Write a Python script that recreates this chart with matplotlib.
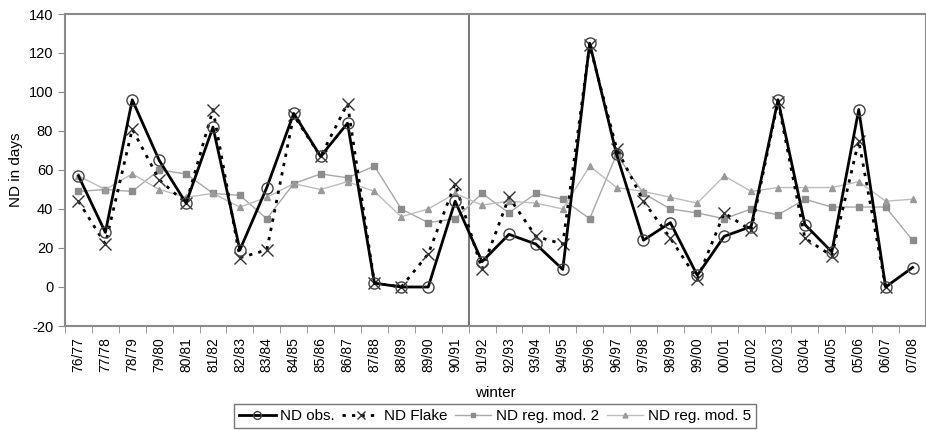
import numpy as np
import matplotlib
matplotlib.use("Agg")
import matplotlib.pyplot as plt
from matplotlib.ticker import FixedLocator, NullFormatter

plt.rcParams['font.family'] = ['Liberation Sans', 'DejaVu Sans']
plt.rcParams['axes.unicode_minus'] = False

winters = ["76/77", "77/78", "78/79", "79/80", "80/81", "81/82", "82/83", "83/84",
           "84/85", "85/86", "86/87", "87/88", "88/89", "89/90", "90/91", "91/92",
           "92/93", "93/94", "94/95", "95/96", "96/97", "97/98", "98/99", "99/00",
           "00/01", "01/02", "02/03", "03/04", "04/05", "05/06", "06/07", "07/08"]

nd_obs = [57, 28, 96, 65, 43, 82, 19, 51, 89, 67, 84, 2, 0, 0, 44, 13,
          27, 22, 9, 125, 68, 24, 33, 6, 26, 31, 96, 32, 18, 91, 0, 10]
nd_flake = [44, 22, 81, 55, 43, 91, 15, 19, 88, 67, 94, 2, 0, 17, 53, 9,
            46, 26, 22, 124, 71, 44, 25, 4, 38, 29, 95, 25, 16, 75, 0, np.nan]
nd_mod2 = [49, 50, 49, 60, 58, 48, 47, 35, 53, 58, 56, 62, 40, 33, 35, 48,
           38, 48, 45, 35, 68, 48, 40, 38, 35, 40, 37, 45, 41, 41, 41, 24]
nd_mod5 = [57, 50, 58, 50, 46, 48, 41, 46, 53, 50, 54, 49, 36, 40, 48, 42,
           44, 43, 40, 62, 51, 49, 46, 43, 57, 49, 51, 51, 51, 54, 44, 45]

x = np.arange(len(winters))

fig = plt.figure(figsize=(9.26, 4.30), dpi=100)
ax = fig.add_axes([65/926, 1-326/430, 861/926, (326-14)/430])

frame_col = '#8a8a8a'
ax.axvline(14.5, color='#7a7a7a', lw=1.5, zorder=1)

ax.plot(x, nd_mod2, color='#a8a8a8', lw=1.0, marker='s', ms=4,
        mfc='#8c8c8c', mec='#8c8c8c', label='ND reg. mod. 2', zorder=2)
ax.plot(x, nd_mod5, color='#bdbdbd', lw=1.0, marker='^', ms=5,
        mfc='#9a9a9a', mec='#9a9a9a', label='ND reg. mod. 5', zorder=2)
ax.plot(x, nd_flake, color='black', lw=2.0, ls=(0, (1.2, 2.2)), marker='x', ms=8,
        mec='#333333', mew=1.0, label='ND Flake', zorder=3)
ax.plot(x, nd_obs, color='black', lw=2.0, marker='o', ms=8, mfc='none',
        mec='#444444', mew=1.0, label='ND obs.', zorder=4)

ax.set_xlim(-0.5, len(winters) - 0.5)
ax.set_ylim(-20, 140)
ax.set_yticks(np.arange(-20, 141, 20))
ax.set_xticks(x)
ax.set_xticklabels(winters, rotation=90, fontsize=10)
ax.tick_params(axis='x', which='major', length=0, pad=8)
ax.xaxis.set_minor_locator(FixedLocator(np.arange(-0.5, len(winters), 1)))
ax.xaxis.set_minor_formatter(NullFormatter())
ax.tick_params(axis='x', which='minor', length=5, direction='out', color=frame_col)
ax.tick_params(axis='y', length=5, direction='out', color=frame_col, labelsize=10.5)

for s in ['left', 'bottom', 'top', 'right']:
    ax.spines[s].set_color(frame_col)
    ax.spines[s].set_linewidth(1.5)

ax.set_ylabel('ND in days', fontsize=11)
ax.set_xlabel('winter', fontsize=11, labelpad=10)

h, l = ax.get_legend_handles_labels()
order = [3, 2, 0, 1]
leg = fig.legend([h[i] for i in order], [l[i] for i in order], loc='center',
                 bbox_to_anchor=(495/926, 1-416/430), ncol=4, fontsize=11,
                 frameon=True, fancybox=False, edgecolor='#555555',
                 handlelength=2.4, handletextpad=0.3, columnspacing=0.5,
                 borderpad=0.3, markerscale=0.7)
leg.get_frame().set_linewidth(1.0)

fig.savefig('out.png', dpi=100)
